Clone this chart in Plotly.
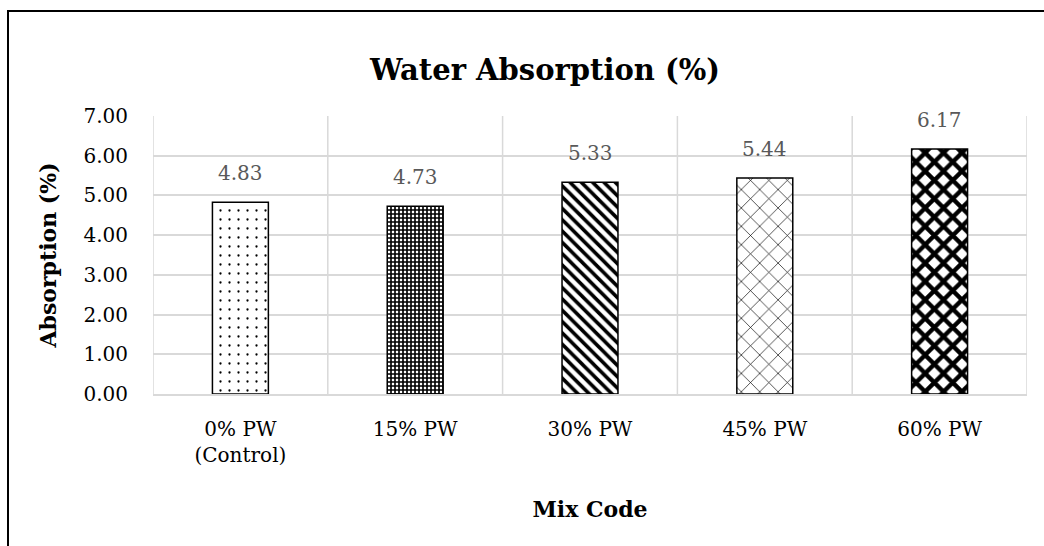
import plotly.graph_objects as go

categories = ["0% PW<br>(Control)", "15% PW", "30% PW", "45% PW", "60% PW"]
values = [4.83, 4.73, 5.33, 5.44, 6.17]
patterns = [".", "+", "\\", "x", "x"]
pattern_sizes = [9, 4, 8, 13, 13]
pattern_solidity = [0.05, 0.65, 0.45, 0.1, 0.55]
y_ticks = [0, 1, 2, 3, 4, 5, 6, 7]
y_tick_labels = ["0.00", "1.00", "2.00", "3.00", "4.00", "5.00", "6.00", "7.00"]

FONT = "DejaVu Serif"

fig = go.Figure()
fig.add_trace(go.Bar(
    x=categories,
    y=values,
    width=0.32,
    marker=dict(
        color="white",
        line=dict(color="black", width=1.5),
        pattern=dict(
            shape=patterns,
            size=pattern_sizes,
            solidity=pattern_solidity,
            fgcolor="black",
            bgcolor="white",
            fillmode="replace",
        ),
    ),
))

# data labels
for c, v in zip(categories, values):
    fig.add_annotation(x=c, y=v, xref="x", yref="y", text=f"{v:.2f}",
                       showarrow=False, yanchor="middle", yshift=29,
                       font=dict(family=FONT, size=20, color="#595959"))

fig.update_layout(
    width=1044,
    height=546,
    margin=dict(l=153, r=17, t=116, b=152),
    paper_bgcolor="white",
    plot_bgcolor="white",
    showlegend=False,
    title=dict(
        text="<b>Water Absorption (%)</b>",
        font=dict(family=FONT, size=29, color="black"),
        x=545 / 1044, xref="container", xanchor="center",
        y=1 - 70 / 546, yref="container", yanchor="middle",
    ),
    font=dict(family=FONT, size=20, color="black"),
)

fig.update_xaxes(
    showgrid=False,
    showline=True, linecolor="#d9d9d9", linewidth=1.5,
    tickfont=dict(family=FONT, size=20, color="black"),
    ticks="", ticklabelstandoff=16,
    title=dict(text="<b>Mix Code</b>", font=dict(family=FONT, size=22, color="black"), standoff=36),
    range=[-0.5, len(categories) - 0.5],
)
fig.update_yaxes(
    range=[0, 7],
    tickvals=y_ticks,
    ticktext=y_tick_labels,
    showgrid=True, gridcolor="#d9d9d9", gridwidth=1.5,
    zeroline=False,
    showline=False,
    ticks="", ticklabelstandoff=24,
    tickfont=dict(family=FONT, size=20, color="black"),
    title=dict(text="<b>Absorption (%)</b>", font=dict(family=FONT, size=22, color="black"), standoff=20),
)

# vertical category dividers
for i in range(len(categories) + 1):
    fig.add_shape(type="line", xref="x", yref="paper",
                  x0=i - 0.5, x1=i - 0.5, y0=0, y1=1,
                  line=dict(color="#d9d9d9", width=1.5), layer="below")

# outer chart border (top and left visible)
fig.add_shape(type="rect", xref="paper", yref="paper",
              x0=(8 - 153) / 874, x1=(1060 - 153) / 874,
              y0=-(560 - 394) / 278, y1=1 + (116 - 11) / 278,
              line=dict(color="black", width=2), layer="below")

fig.write_html("out.html")
